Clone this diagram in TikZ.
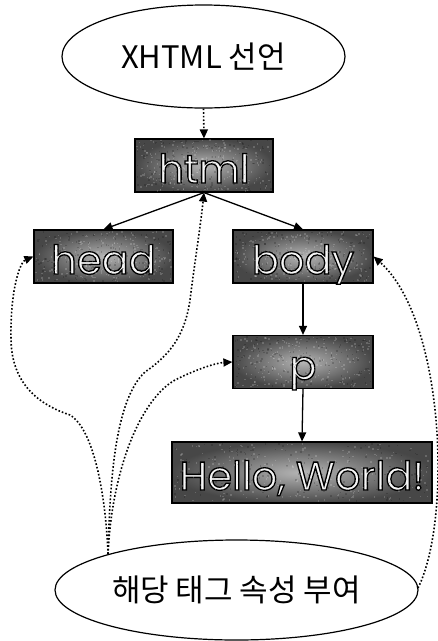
\documentclass[tikz,border=0pt]{standalone}
\usepackage{fontspec}
\setmainfont{Poppins}
\newfontfamily\krfont{Noto Sans CJK KR}
\usetikzlibrary{arrows.meta,shapes.geometric}

% light lettering with a dark rim: fill-and-stroke text render mode
\newcommand\rimtext[1]{%
  \special{pdf:literal direct 2 Tr 1.3 w 0 G}#1\special{pdf:literal direct 0 Tr}}

\begin{document}
\begin{tikzpicture}[x=1pt,y=-1pt,
  tagbox/.style={rectangle,draw=black,line width=1.2pt,inner sep=0pt,
    inner color=gray!58,outer color=black!72,text=gray!8,
    minimum height=53pt,text height=35pt,text depth=0pt,
    font=\fontsize{40}{42}\selectfont},
  bubble/.style={ellipse,draw=black,line width=1.2pt,inner sep=0pt,
    font=\krfont\fontsize{31}{36}\selectfont},
  link/.style={line width=1.3pt,-{Triangle[length=9pt,width=8pt]}},
  hint/.style={line width=1.6pt,dash pattern=on 1.6pt off 2pt,
    -{Triangle[length=9pt,width=8pt]}}]

\useasboundingbox (0,0) rectangle (438,641);

% declaration bubble and the element tree
\node[bubble,minimum width=283pt,minimum height=103pt] (decl) at (203.5,56.5) {XHTML 선언};

\node[tagbox,minimum width=138pt] (html)  at (204,165.5) {\rimtext{html}};
\node[tagbox,minimum width=139pt] (head)  at (103.5,256.5) {\rimtext{head}};
\node[tagbox,minimum width=140pt] (body)  at (303,256.5) {\rimtext{body}};
\node[tagbox,minimum width=140pt] (p)     at (303,362) {\rimtext{p}};
\node[tagbox,minimum width=260pt,minimum height=61pt] (hello) at (302,472.5) {\rimtext{Hello, World!}};

% speckled grain over the tag boxes
\pgfmathsetseed{7}
\foreach \bx/\by/\bw/\bh in {136/139/136/53, 35/231/137/51, 234/231/138/51,
                              234/336/138/52, 173/443/258/59}{
  \foreach \i in {1,...,220}{
    \pgfmathsetmacro\sx{\bx+rnd*(\bw-1.5)}
    \pgfmathsetmacro\sy{\by+rnd*(\bh-1.5)}
    \fill[white,opacity=.18] (\sx,\sy) rectangle ++(1.5,1.5);
  }
  \foreach \i in {1,...,160}{
    \pgfmathsetmacro\sx{\bx+rnd*(\bw-1.5)}
    \pgfmathsetmacro\sy{\by+rnd*(\bh-1.5)}
    \fill[black,opacity=.18] (\sx,\sy) rectangle ++(1.5,1.5);
  }
}

% attribute bubble
\node[bubble,minimum width=363pt,minimum height=100pt] (attr) at (236.5,590) {해당 태그 속성 부여};

% tree edges
\draw[link] (html.south) -- (head.north);
\draw[link] (html.south) -- (body.north);
\draw[link] (body.south) -- (p.north);
\draw[link] (p.south) -- (hello.north);

% declaration applies to the root element
\draw[hint] (decl.south) -- (html.north);

% attribute hints
\coordinate (fanL) at (108,554);
\coordinate (fanR) at (418,588);

\draw[hint] (fanL) .. controls (106,500) and (95,430) .. (70,415)
  .. controls (40,405) and (12,385) .. (11,340)
  .. controls (10,290) and (20,262) .. (head.west);
\draw[hint] (fanL) .. controls (110,480) and (115,400) .. (145,372)
  .. controls (170,355) and (185,335) .. (190,300)
  .. controls (195,260) and (200,230) .. (html.south);
\draw[hint] (fanL) .. controls (112,470) and (140,400) .. (175,380)
  .. controls (195,370) and (215,363) .. (p.west);
\draw[hint] (fanR) .. controls (452,520) and (445,320) .. (body.east);

\end{tikzpicture}
\end{document}
